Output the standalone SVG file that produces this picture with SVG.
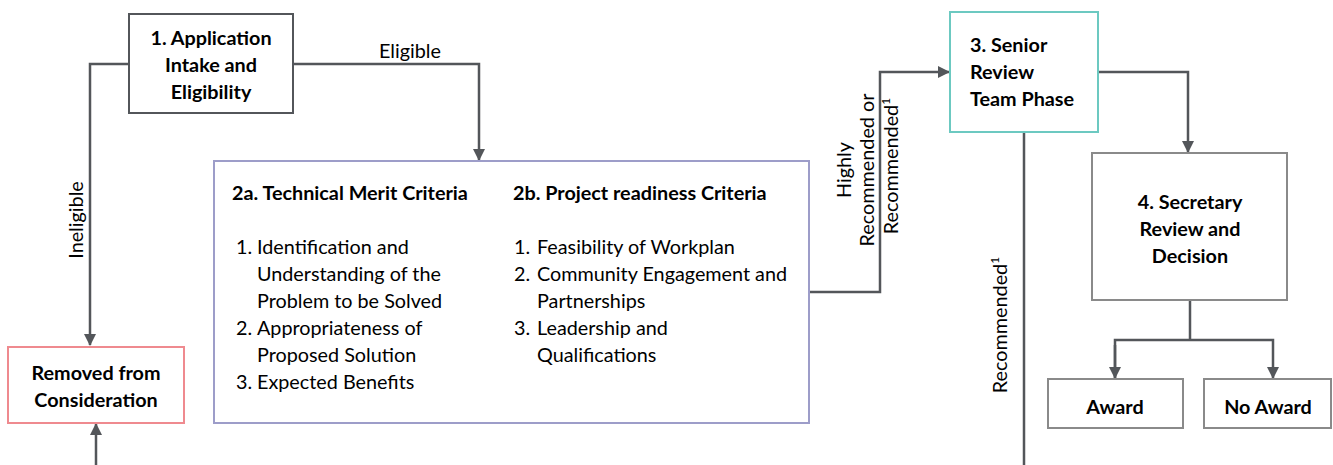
<svg xmlns="http://www.w3.org/2000/svg" width="1333" height="465" viewBox="0 0 1333 465">
  <defs>
    <marker id="arrow" viewBox="0 0 12 12" refX="11" refY="6" markerWidth="12" markerHeight="12" markerUnits="userSpaceOnUse" orient="auto">
      <path d="M0,0 L12,6 L0,12 Z" fill="#53565a"/>
    </marker>
    <style>
      text { font-family: "Lato", "Liberation Sans", sans-serif; font-size: 19.8px; fill: #000; }
      .b { font-weight: bold; }
      .c { text-anchor: middle; }
      .box { fill: #fff; stroke-width: 2; }
      .wire { fill: none; stroke: #53565a; stroke-width: 2.5; }
    </style>
  </defs>
  <rect width="1333" height="465" fill="#fff"/>

  <!-- connectors -->
  <g id="connectors">
    <polyline class="wire" points="129,64 90,64 90,345" marker-end="url(#arrow)"/>
    <polyline class="wire" points="293,64 479,64 479,160" marker-end="url(#arrow)"/>
    <line class="wire" x1="96" y1="465" x2="96" y2="424" marker-end="url(#arrow)"/>
    <polyline class="wire" points="810,292 880,292 880,72 949,72" marker-end="url(#arrow)"/>
    <line class="wire" x1="1024" y1="133" x2="1024" y2="465"/>
    <polyline class="wire" points="1098,72 1188,72 1188,152" marker-end="url(#arrow)"/>
    <polyline class="wire" points="1190,301 1190,340"/>
    <polyline class="wire" points="1115,379 1115,340 1273,340 1273,378" marker-end="url(#arrow)"/>
    <line class="wire" x1="1115" y1="345" x2="1115" y2="378" marker-end="url(#arrow)"/>
    <text x="410" y="58" class="c">Eligible</text>
    <text class="c" transform="translate(83,220) rotate(-90)">Ineligible</text>
    <text class="c" transform="translate(851,170) rotate(-90)">Highly</text>
    <text class="c" transform="translate(874,170) rotate(-90)">Recommended or</text>
    <text class="c" transform="translate(898,166) rotate(-90)">Recommended<tspan font-size="12" dy="-8">1</tspan></text>
    <text class="c" transform="translate(1007,325) rotate(-90)">Recommended<tspan font-size="12" dy="-8">1</tspan></text>
  </g>

  <!-- step 1 -->
  <g id="intake">
    <rect class="box" x="129" y="14" width="164" height="99" stroke="#53565a"/>
    <text class="b c" x="211" y="45">1. Application</text>
    <text class="b c" x="211" y="72">Intake and</text>
    <text class="b c" x="211" y="99">Eligibility</text>
  </g>

  <!-- removed -->
  <g id="removed">
    <rect class="box" x="8" y="347" width="176" height="76" stroke="#ef8a8f"/>
    <text class="b c" x="96" y="380">Removed from</text>
    <text class="b c" x="96" y="407">Consideration</text>
  </g>

  <!-- step 2 criteria -->
  <g id="criteria">
    <rect class="box" x="214" y="161" width="595" height="262" stroke="#9d9dc9"/>
    <text class="b" x="232" y="200">2a. Technical Merit Criteria</text>
    <text class="b" x="513" y="200">2b. Project readiness Criteria</text>
    <g>
      <text x="236" y="254">1.</text><text x="257" y="254">Identification and</text>
      <text x="257" y="281">Understanding of the</text>
      <text x="257" y="308">Problem to be Solved</text>
      <text x="236" y="335">2.</text><text x="257" y="335">Appropriateness of</text>
      <text x="257" y="362">Proposed Solution</text>
      <text x="236" y="389">3.</text><text x="257" y="389">Expected Benefits</text>
    </g>
    <g>
      <text x="514" y="254">1.</text><text x="537" y="254">Feasibility of Workplan</text>
      <text x="514" y="281">2.</text><text x="537" y="281">Community Engagement and</text>
      <text x="537" y="308">Partnerships</text>
      <text x="514" y="335">3.</text><text x="537" y="335">Leadership and</text>
      <text x="537" y="362">Qualifications</text>
    </g>
  </g>

  <!-- step 3 -->
  <g id="senior-review">
    <rect class="box" x="950" y="12" width="148" height="120" stroke="#6cc9c1"/>
    <text class="b" x="970" y="52">3. Senior</text>
    <text class="b" x="970" y="79">Review</text>
    <text class="b" x="970" y="106">Team Phase</text>
  </g>

  <!-- step 4 -->
  <g id="secretary">
    <rect class="box" x="1092" y="153" width="195" height="147" stroke="#8a8a8a"/>
    <text class="b c" x="1190" y="209">4. Secretary</text>
    <text class="b c" x="1190" y="236">Review and</text>
    <text class="b c" x="1190" y="263">Decision</text>
  </g>

  <g id="award">
    <rect class="box" x="1048" y="379" width="135" height="49" stroke="#8a8a8a"/>
    <text class="b c" x="1115" y="414">Award</text>
  </g>

  <g id="no-award">
    <rect class="box" x="1204" y="379" width="127" height="49" stroke="#8a8a8a"/>
    <text class="b c" x="1268" y="414">No Award</text>
  </g>
</svg>
